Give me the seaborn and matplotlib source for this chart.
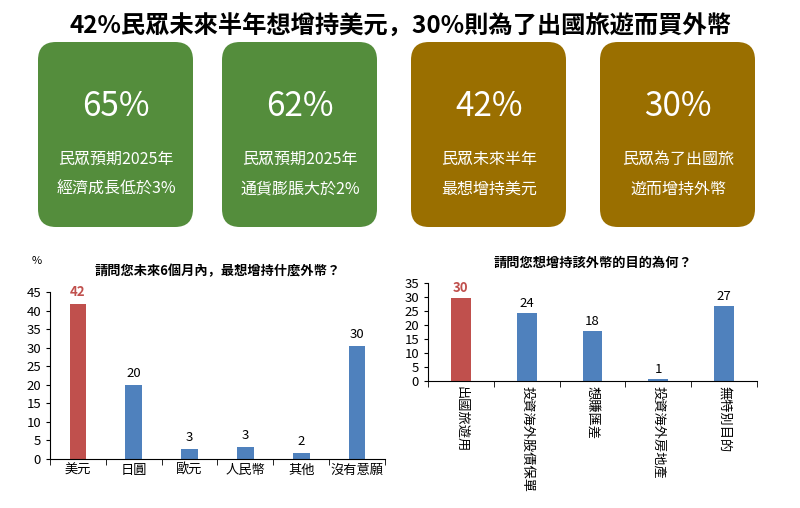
import matplotlib
matplotlib.use("Agg")
import matplotlib.pyplot as plt
import seaborn as sns
from matplotlib import font_manager
from matplotlib.patches import FancyBboxPatch

names = {f.name for f in font_manager.fontManager.ttflist}
cjk = [n for n in ["Noto Sans CJK TC", "Noto Sans CJK JP", "Noto Sans CJK SC", "Noto Sans CJK KR"] if n in names]
plt.rcParams['font.family'] = cjk + ['DejaVu Sans']

card_big = ["65%", "62%", "42%", "30%"]
card_text = ["民眾預期2025年\n經濟成長低於3%", "民眾預期2025年\n通貨膨脹大於2%",
             "民眾未來半年\n最想增持美元", "民眾為了出國旅\n遊而增持外幣"]
card_colors = ["#548D3C", "#548D3C", "#9A6F00", "#9A6F00"]

left_cats = ["美元", "日圓", "歐元", "人民幣", "其他", "沒有意願"]
left_vals = [41.7, 20.0, 2.8, 3.2, 1.5, 30.4]
left_labels = ["42", "20", "3", "3", "2", "30"]

right_cats = ["出國旅遊用", "投資海外股債保單", "想賺匯差", "投資海外房地產", "無特別目的"]
right_vals = [29.6, 24.4, 18.0, 0.8, 26.7]
right_labels = ["30", "24", "18", "1", "27"]

RED = "#C0504D"
BLUE = "#4F81BD"
W, H = 800, 508

fig = plt.figure(figsize=(8, 5.08), dpi=100)
fig.text(0.5, 1 - 27 / H, "42%民眾未來半年想增持美元，30%則為了出國旅遊而買外幣",
         ha='center', va='center', fontsize=17.5, fontweight='bold')

# cards
bg = fig.add_axes([0, 0, 1, 1])
bg.set_xlim(0, W)
bg.set_ylim(H, 0)
bg.axis('off')
xs = [38, 222, 411, 600]
for x0, big, txt, c in zip(xs, card_big, card_text, card_colors):
    bg.add_patch(FancyBboxPatch((x0, 42), 155, 185, boxstyle="round,pad=0,rounding_size=18",
                                fc=c, ec='none'))
    bg.text(x0 + 78, 107, big, color='white', fontsize=24, ha='center', va='center')
    bg.text(x0 + 78, 174, txt, color='white', fontsize=11.5, ha='center', va='center',
            linespacing=2.0)


def bar_panel(rect, cats, vals, labels, ymax, step, title, vertical):
    ax = fig.add_axes(rect)
    colors = [RED] + [BLUE] * (len(cats) - 1)
    sns.barplot(x=list(range(len(cats))), y=vals, palette=colors, hue=list(range(len(cats))),
                legend=False, width=0.3, saturation=1, ax=ax, edgecolor='none')
    ax.set_ylim(0, ymax)
    ax.set_yticks(range(0, ymax + 1, step))
    ax.set_xticks(range(len(cats)))
    if vertical:
        ax.set_xticklabels(cats, rotation=-90, va='top', fontsize=9.5)
    else:
        ax.set_xticklabels(cats, fontsize=9.5)
    ax.set_xticks([i + 0.5 for i in range(-1, len(cats))], minor=True)
    ax.tick_params(axis='x', which='minor', length=4)
    ax.tick_params(axis='y', labelsize=9.5, length=3)
    ax.tick_params(axis='x', which='major', length=0)
    for i, (v, lab) in enumerate(zip(vals, labels)):
        ax.text(i, v + ymax * 0.03, lab, ha='center', va='bottom', fontsize=9.5,
                fontweight='bold' if i == 0 else 'normal', color=RED if i == 0 else 'black')
    for s in ['top', 'right']:
        ax.spines[s].set_visible(False)
    ax.set_xlim(-0.5, len(cats) - 0.5)
    ax.set_title(title, fontsize=9.5, fontweight='bold', pad=12)
    ax.set_xlabel("")
    return ax


ax1 = bar_panel([50 / W, 1 - 459 / H, 335 / W, 167 / H], left_cats, left_vals, left_labels,
                45, 5, "請問您未來6個月內，最想增持什麼外幣？", False)
fig.text(32 / W, 1 - 264 / H, "%", fontsize=8)
ax2 = bar_panel([428 / W, 1 - 381 / H, 329 / W, 98 / H], right_cats, right_vals, right_labels,
                35, 5, "請問您想增持該外幣的目的為何？", True)

fig.savefig("out.png", dpi=100)
